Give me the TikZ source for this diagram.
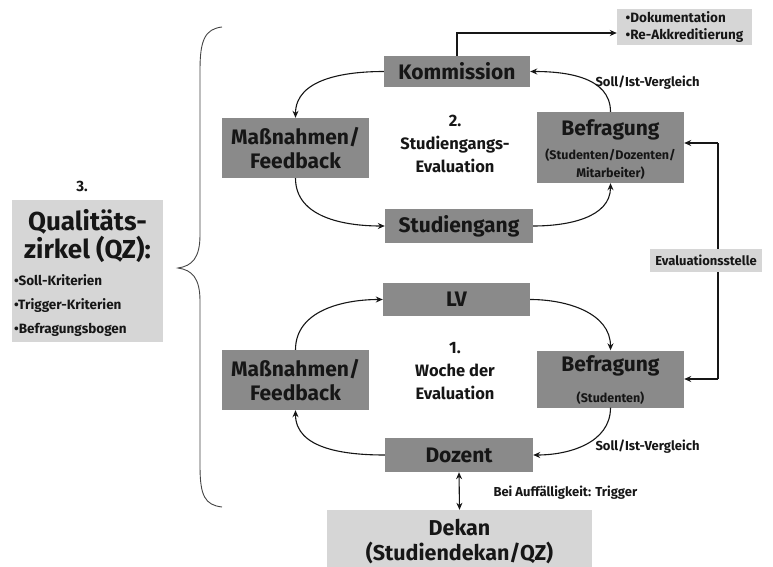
\documentclass[tikz,border=0pt]{standalone}
\usepackage{fontspec}
\setmainfont{Fira Sans}
\usetikzlibrary{arrows.meta}
\definecolor{darkbox}{RGB}{138,138,138}
\definecolor{lightbox}{RGB}{214,214,214}
\definecolor{ink}{RGB}{22,22,22}
\begin{document}
\begin{tikzpicture}[x=1pt,y=-1pt,
  dbox/.style={fill=darkbox,inner sep=0pt,text=ink,font=\bfseries\fontsize{21}{24}\selectfont,align=center},
  lbox/.style={fill=lightbox,inner sep=0pt,text=ink,align=center},
  small/.style={font=\bfseries\fontsize{13}{15}\selectfont,text=ink},
  sub/.style={inner sep=0pt,text=ink,align=center,font=\bfseries\fontsize{12.5}{18}\selectfont},
  mid/.style={font=\bfseries\fontsize{16.5}{23}\selectfont,text=ink,align=center},
  arr/.style={-{Stealth[length=7pt,width=6pt]},line width=1.1pt,draw=ink},
  dblarr/.style={{Stealth[length=7pt,width=6pt]}-{Stealth[length=7pt,width=6pt]},line width=1.1pt,draw=ink},
  plain/.style={line width=1.1pt,draw=ink}]
\useasboundingbox (0,0) rectangle (773,567);

% upper cycle
\node[dbox,minimum width=146,minimum height=31] (kom) at (457,71.5) {Kommission};
\node[lbox,minimum width=135,minimum height=36,align=left,font=\bfseries\fontsize{13.5}{17}\selectfont] (dok) at (684.5,27) {•Dokumentation\\•Re-Akkreditierung};
\node[dbox,minimum width=147,minimum height=71] (bef1) at (610.5,147.5) {};
\node[dbox] (bef1t) at (610.5,130) {Befragung};
\node[sub] (bef1s) at (610.5,164) {(Studenten/Dozenten/\\Mitarbeiter)};
\node[dbox,minimum width=148,minimum height=34] (stu) at (459,226) {Studiengang};
\node[dbox,minimum width=147,minimum height=60] (mas1) at (295.5,148) {Maßnahmen/\\Feedback};
\node[mid] (lab2) at (455,143.5) {2.\\Studiengangs-\\Evaluation};

% lower cycle
\node[dbox,minimum width=147,minimum height=33] (lv) at (456.5,299.5) {LV};
\node[dbox,minimum width=147,minimum height=60] (mas2) at (295.5,380) {Maßnahmen/\\Feedback};
\node[dbox,minimum width=147,minimum height=57] (bef2) at (610.5,379) {};
\node[dbox] (bef2t) at (610.5,366) {Befragung};
\node[sub] (bef2s) at (610.5,398) {(Studenten)};
\node[dbox,minimum width=148,minimum height=34] (doz) at (459,455) {Dozent};
\node[mid] (lab1) at (455,371) {1.\\Woche der\\Evaluation};

\node[lbox,minimum width=265,minimum height=57] (dek) at (459.5,538.5) {};
\node[inner sep=0pt,text=ink,align=center,font=\bfseries\fontsize{21.5}{25}\selectfont] (dekt) at (459.5,542) {Dekan\\(Studiendekan/QZ)};

% Evaluationsstelle line
\coordinate (vtop) at (718,143);
\coordinate (vbot) at (718,379);
\draw[arr] (vtop) -- (bef1.east|-vtop);
\draw[arr] (vbot) -- (bef2.east|-vbot);
\draw[plain] (vtop) -- (vbot);
\node[lbox,minimum width=112,minimum height=23,font=\bfseries\fontsize{13}{15}\selectfont] (eval) at (706,260.5) {Evaluationsstelle};

% Qualitätszirkel
\node[lbox,minimum width=151,minimum height=142] (qz) at (87.5,271) {};
\node[font=\bfseries\fontsize{26}{28}\selectfont,text=ink,align=center] (qzt) at (87.5,236) {Qualitäts-\\zirkel (QZ):};
\node[anchor=north west,align=left,font=\bfseries\fontsize{13.5}{24}\selectfont,text=ink,inner sep=0pt] (qzl) at (14,274) {•Soll-Kriterien\\•Trigger-Kriterien\\•Befragungsbogen};
\node[font=\bfseries\fontsize{15}{17}\selectfont,text=ink] (n3) at (82,186) {3.};

% brace
\coordinate (bt) at (222,27);
\coordinate (bb) at (222,507);
\coordinate (btip) at (178,268);
\draw[line width=0.9pt,draw=ink!80] (bt) .. controls (205,29) and (200,40) .. (200,70)
  -- (200,235) .. controls (200,258) and (192,266) .. (btip)
  .. controls (192,270) and (200,278) .. (200,301)
  -- (200,466) .. controls (200,496) and (205,505) .. (bb);

% upper arrows
\draw[arr] (kom.west) to[out=180,in=90] (mas1.north);
\draw[arr] (mas1.south) to[out=-90,in=180] (stu.west);
\draw[arr] (stu.east) to[out=0,in=-90] (bef1.south);
\draw[arr] (bef1.north) to[out=90,in=0] (kom.east);
\draw[arr] (kom.north) |- ([yshift=-6pt]dok.west);
\node[small,anchor=west] (svg1) at (592,83) {Soll/Ist-Vergleich};

% lower arrows
\draw[arr] (mas2.north) to[out=90,in=180] (lv.west);
\draw[arr] (lv.east) to[out=0,in=90] (bef2.north);
\draw[arr] (bef2.south) to[out=-90,in=0] (doz.east);
\draw[arr] (doz.west) to[out=180,in=-90] (mas2.south);
\node[small,anchor=west] (svg2) at (592,447) {Soll/Ist-Vergleich};
\draw[dblarr] (doz.south) -- (dek.north);
\node[small,anchor=west] (trig) at (490,493) {Bei Auffälligkeit: Trigger};
\end{tikzpicture}
\end{document}
